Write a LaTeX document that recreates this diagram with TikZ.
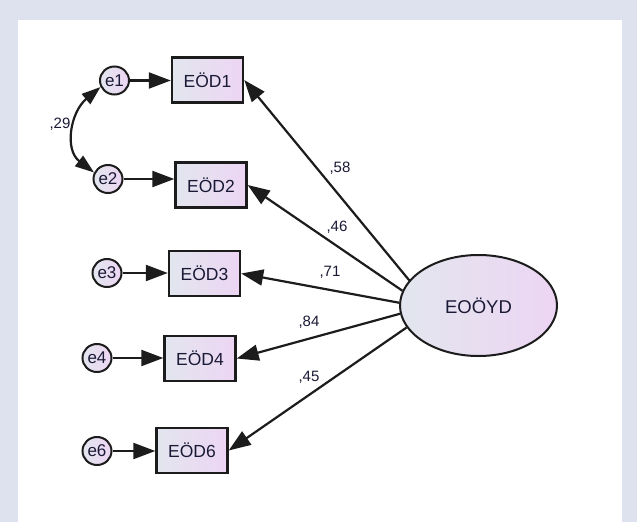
\documentclass[tikz,border=0pt]{standalone}
\usepackage{fontspec}
\setmainfont{Liberation Sans}
\usetikzlibrary{arrows.meta,shapes.geometric,calc}
\definecolor{bgc}{HTML}{DEE2EE}
\definecolor{gA}{HTML}{E2E6EE}
\definecolor{gB}{HTML}{EDD5F3}
\definecolor{txt}{HTML}{1A1A36}
\definecolor{edge}{HTML}{1C1C1C}
\tikzset{
  obs/.style={rectangle, draw=edge, line width=2.4pt, left color=gA, right color=gB,
    minimum width=71pt, minimum height=45pt, inner sep=0pt, text=txt,
    font=\fontsize{17.5}{19}\selectfont},
  err/.style={ellipse, draw=edge, line width=2pt, left color=gA, right color=gB,
    minimum width=29pt, minimum height=28pt, inner sep=0pt, text=txt,
    font=\fontsize{17}{18}\selectfont},
  lat/.style={ellipse, draw=edge, line width=2pt, left color=gA, right color=gB,
    minimum width=157pt, minimum height=101pt, inner sep=0pt, text=txt,
    font=\fontsize{18.5}{20}\selectfont},
  path/.style={draw=edge, line width=2.2pt, -{Triangle[length=22pt 0 0,width=16pt 0 0]}},
  cov/.style={draw=edge, line width=2.2pt, {Triangle[length=19pt 0 0,width=13pt 0 0]}-{Triangle[length=19pt 0 0,width=13pt 0 0]}},
  lbl/.style={text=txt, font=\fontsize{15}{17}\selectfont, inner sep=0pt}
}
\begin{document}
\begin{tikzpicture}[x=1pt,y=-1pt]
\useasboundingbox (0,0) rectangle (637,522);
\fill[bgc] (0,0) rectangle (637,522);
\fill[white] (18,20) rectangle (622,522);

\node[obs] (b1) at (207.5,80) {EÖD1};
\node[obs] (b2) at (211,185) {EÖD2};
\node[obs] (b3) at (204.5,273.5) {EÖD3};
\node[obs] (b4) at (200,358.5) {EÖD4};
\node[obs] (b6) at (192,450.5) {EÖD6};

\node[err] (e1) at (114.5,80.5) {e1};
\node[err] (e2) at (108,179) {e2};
\node[err] (e3) at (107,273) {e3};
\node[err] (e4) at (97,358) {e4};
\node[err] (e6) at (97,451) {e6};

\node[lat] (el) at (478.5,305.5) {EOÖYD};

\draw[path] (e1.east) -- (e1.east -| b1.west);
\draw[path] (e2.east) -- (e2.east -| b2.west);
\draw[path] (e3.east) -- (e3.east -| b3.west);
\draw[path] (e4.east) -- (e4.east -| b4.west);
\draw[path] (e6.east) -- (e6.east -| b6.west);

\draw[path] (el.160) -- (b1.east);
\draw[path] (el.169) -- (b2.east);
\draw[path] (el.178) -- (b3.east);
\draw[path] (el.186) -- (b4.east);
\draw[path] (el.197) -- (b6.east);

\draw[cov] (e1.205) .. controls +(-30,25) and +(-30,-23) .. (e2.155);

\node[lbl] (l29) at (60,124) {,29};
\node[lbl] (l58) at (340,168) {,58};
\node[lbl] (l46) at (337,227) {,46};
\node[lbl] (l71) at (330,272) {,71};
\node[lbl] (l84) at (309,322) {,84};
\node[lbl] (l45) at (309,377) {,45};
\end{tikzpicture}
\end{document}
